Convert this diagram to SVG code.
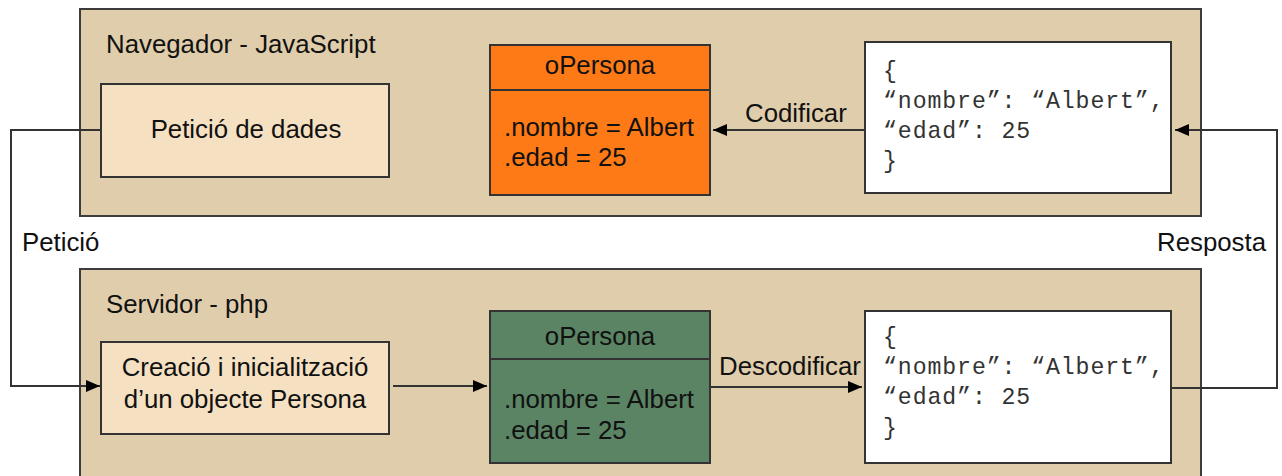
<svg xmlns="http://www.w3.org/2000/svg" width="1282" height="476" viewBox="0 0 1282 476">
<style>
.cont{fill:#e0cdab;stroke:#3c3c3c;stroke-width:2}
.box{fill:#f5e1c2;stroke:#333;stroke-width:2}
.obj{stroke:#333;stroke-width:2}
.json{fill:#fff;stroke:#333;stroke-width:2}
.t{font-family:"Liberation Sans",Arial,sans-serif;font-size:25.8px;fill:#111}
.m{font-family:"Liberation Mono","Courier New",monospace;font-size:23.2px;fill:#333;letter-spacing:0.9px}
.c{text-anchor:middle}
.ln{fill:none;stroke:#333;stroke-width:2}
</style>
<defs>
<marker id="ah" viewBox="0 0 14 12" refX="14" refY="6" markerWidth="14" markerHeight="12" markerUnits="userSpaceOnUse" orient="auto">
<path d="M0,0 L14,6 L0,12 Z" fill="#000"/>
</marker>
</defs>
<g id="navegador">
<rect class="cont" x="80" y="9" width="1121" height="207"/>
<text class="t" x="106" y="53">Navegador - JavaScript</text>
</g>
<g id="servidor">
<rect class="cont" x="80" y="269" width="1121" height="220"/>
<text class="t" x="106" y="313">Servidor - php</text>
</g>
<g id="peticio-dades">
<rect class="box" x="101" y="84" width="288" height="93"/>
<text class="t c" x="246" y="138">Petició de dades</text>
</g>
<g id="opersona-js">
<rect class="obj" fill="#fd7a16" x="490" y="45" width="220" height="150"/>
<line class="ln" x1="490" y1="90" x2="710" y2="90"/>
<text class="t c" x="600" y="74">oPersona</text>
<text class="t" x="504" y="136">.nombre = Albert</text>
<text class="t" x="504" y="166">.edad = 25</text>
</g>
<g id="json-js">
<rect class="json" x="865" y="42" width="306" height="151"/>
<text class="m" x="883" y="78">{</text>
<text class="m" x="883" y="108">“nombre”: “Albert”,</text>
<text class="m" x="883" y="138">“edad”: 25</text>
<text class="m" x="883" y="168">}</text>
</g>
<g id="creacio">
<rect class="box" x="101" y="342" width="288" height="92"/>
<text class="t c" x="245" y="376">Creació i inicialització</text>
<text class="t c" x="245" y="408">d’un objecte Persona</text>
</g>
<g id="opersona-php">
<rect class="obj" fill="#5a8463" x="490" y="311" width="220" height="152"/>
<line class="ln" x1="490" y1="359" x2="710" y2="359"/>
<text class="t c" x="600" y="345">oPersona</text>
<text class="t" x="504" y="408">.nombre = Albert</text>
<text class="t" x="504" y="439">.edad = 25</text>
</g>
<g id="json-php">
<rect class="json" x="865" y="311" width="306" height="152"/>
<text class="m" x="883" y="344">{</text>
<text class="m" x="883" y="374">“nombre”: “Albert”,</text>
<text class="m" x="883" y="404">“edad”: 25</text>
<text class="m" x="883" y="435">}</text>
</g>
<g id="connectors">
<path class="ln" d="M101,130 H11 V386 H100" marker-end="url(#ah)"/>
<path class="ln" d="M865,130 H713" marker-end="url(#ah)"/>
<path class="ln" d="M393,386 H487" marker-end="url(#ah)"/>
<path class="ln" d="M710,387 H862" marker-end="url(#ah)"/>
<path class="ln" d="M1171,388 H1277 V130 H1175" marker-end="url(#ah)"/>
<text class="t" x="22" y="251">Petició</text>
<text class="t" x="1157" y="251">Resposta</text>
<text class="t" x="745" y="122">Codificar</text>
<text class="t" x="719" y="375">Descodificar</text>
</g>
</svg>
